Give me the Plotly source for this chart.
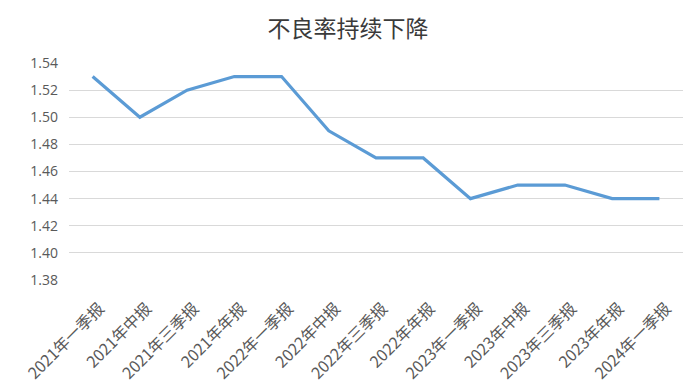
import plotly.graph_objects as go

categories = ["2021年一季报", "2021年中报", "2021年三季报", "2021年年报",
              "2022年一季报", "2022年中报", "2022年三季报", "2022年年报",
              "2023年一季报", "2023年中报", "2023年三季报", "2023年年报",
              "2024年一季报"]
npl_ratio = [1.53, 1.50, 1.52, 1.53, 1.53, 1.49, 1.47, 1.47, 1.44, 1.45, 1.45, 1.44, 1.44]
y_ticks = [1.38, 1.40, 1.42, 1.44, 1.46, 1.48, 1.50, 1.52, 1.54]

font_cjk = "Noto Sans CJK SC, Noto Sans, sans-serif"

W, H = 692, 377  # page body adds an 8px offset

fig = go.Figure()
fig.add_trace(go.Scatter(
    x=list(range(len(categories))), y=npl_ratio, mode="lines",
    line=dict(color="#5B9BD5", width=3.2), showlegend=False,
))

fig.update_layout(
    width=W, height=H,
    margin=dict(l=61, r=17, t=55, b=105),
    paper_bgcolor="white", plot_bgcolor="white",
    title=dict(text="不良率持续下降", x=340 / W, xanchor="center",
               y=1 - 21 / H, yanchor="middle",
               font=dict(family=font_cjk, size=23, color="#3A3A3A")),
    xaxis=dict(
        range=[-0.5, len(categories) - 0.5], automargin=False,
        tickmode="array", tickvals=list(range(len(categories))), ticktext=categories,
        tickangle=-45, showgrid=False, zeroline=False, showline=False, ticks="",
        ticklabelstandoff=15, ticklabelshift=7,
        tickfont=dict(family=font_cjk, size=16, color="#595959"),
    ),
    yaxis=dict(
        range=[1.38, 1.54], automargin=False, tickmode="array", tickvals=y_ticks,
        ticktext=[f"{v:.2f}" for v in y_ticks],
        showgrid=True, gridcolor="#D9D9D9", gridwidth=1, zeroline=False, showline=False,
        ticks="", ticklabelstandoff=10,
        tickfont=dict(family="Open Sans, Noto Sans, sans-serif", size=14, color="#595959"),
    ),
)

fig.write_html("out.html")
